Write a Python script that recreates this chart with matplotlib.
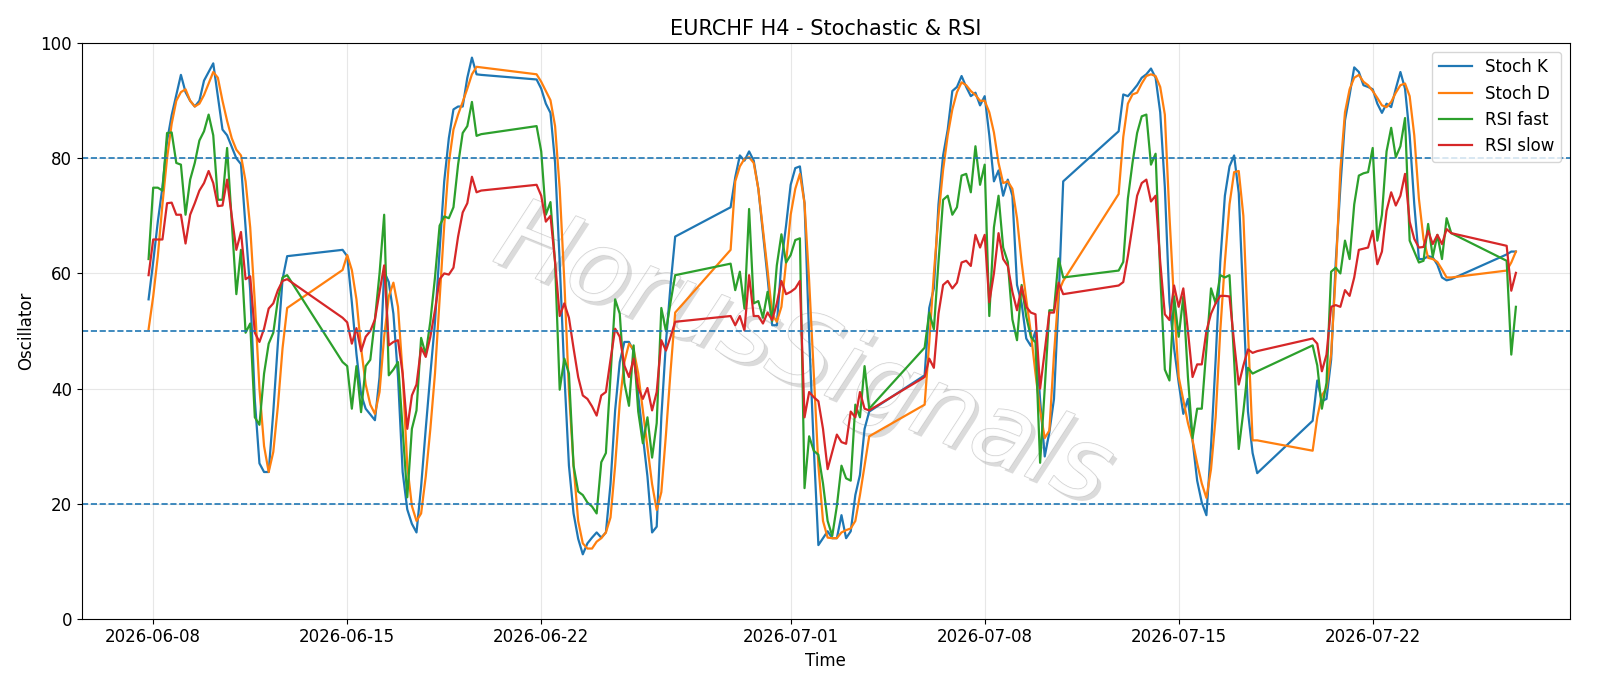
import pandas as pd
import matplotlib
matplotlib.use("Agg")
import matplotlib.pyplot as plt
import matplotlib.patheffects as pe

# each trading week runs Sunday 20:00 -> Friday 20:00 in 4h bars
week_starts = ["2026-06-07 20:00", "2026-06-14 20:00", "2026-06-21 20:00", "2026-06-28 20:00",
               "2026-07-05 20:00", "2026-07-12 20:00", "2026-07-19 20:00", "2026-07-26 20:00"]
bars_per_week = [31, 31, 31, 31, 31, 31, 31, 3]

stoch_k = [
    55.5, 62, 69, 75, 83, 87.5, 91, 94.5, 91.5, 90, 89, 90, 93.5, 95, 96.5, 90.8, 85, 84, 82, 80,
    79, 68, 57, 38, 27, 25.5, 25.5, 36, 48, 59, 63,
    64.1, 63, 55, 46, 39, 36.5, 35.5, 34.5, 42, 60.3, 58.5, 53, 42, 25.5, 19, 16.5, 15, 23, 33, 42.5,
    51.5, 64, 76, 83.5, 88.5, 89, 89, 94, 97.5, 94.6, 94.5,
    93.7, 92.1, 89.5, 87.9, 79.2, 61.9, 42.6, 26.6, 18.3, 13.9, 11.2, 13.1, 14.1, 15, 14.1, 15, 23.4,
    36.2, 44.6, 48.1, 48.1, 46.5, 38.8, 31.8, 24.7, 15, 16, 35, 48, 58, 66.4,
    71.5, 76.7, 80.5, 79.6, 81.2, 79.6, 74.7, 67, 59.3, 51, 51, 61.9, 68.3, 75.4, 78.3, 78.6, 72.2,
    49.1, 29.8, 12.8, 14, 15.2, 14, 14, 18, 14, 15.2, 21.5, 25, 33, 36,
    42.3, 54, 57.4, 72, 80.5, 85, 91.7, 92.4, 94.3, 92.4, 90.8, 91.4, 89.2, 90.8, 84, 76, 77.9, 73.5,
    76.3, 73.5, 58, 54.8, 48.7, 47.4, 50, 38, 28.2, 32.4, 38.2, 55.5, 76,
    84.7, 91.1, 90.8, 91.7, 92.7, 94, 94.6, 95.6, 94, 88, 75, 55, 47, 41, 35.6, 38.2, 31, 24, 20.2,
    18, 30, 45, 62, 73.5, 78.6, 80.5, 74, 55, 36, 28.8, 25.3,
    34.4, 41.4, 37.8, 38.2, 45, 62, 75, 86.6, 91, 95.8, 95, 92.7, 92.4, 92, 89.5, 87.9, 89.5, 88.9,
    92.1, 95, 92.1, 84, 72, 62.5, 62.5, 63, 62.8, 61.5, 59.3, 58.8, 59,
    63.3, 63.8, 63.8,
]

stoch_d = [
    50.3, 56, 63, 72, 80, 86, 90, 91.5, 92, 90, 89, 89.5, 91, 93, 95, 94, 90, 86.5, 83.5, 81.5,
    80.5, 76, 68, 55, 40, 30, 25.5, 29, 37, 47, 54,
    60.6, 63.2, 60.6, 55.5, 47.1, 40.7, 37.2, 35.6, 39.4, 49, 56, 58.4, 54.2, 42.6, 26.6, 19.6, 17,
    18.3, 24.7, 33, 42.6, 55.5, 68.3, 79.2, 85, 87.6, 89.8, 92.1, 94.6, 95.9, 95.8,
    94.6, 93.3, 91.7, 90.1, 85.6, 74.7, 58.7, 39.5, 26.6, 17, 13.1, 12.2, 12.2, 13.4, 14, 15, 17.6,
    26.6, 37.5, 44.6, 47.8, 46.8, 42.6, 36.2, 29.8, 23.4, 18.9, 22, 32, 43, 53.2,
    64.1, 76, 78.6, 79.9, 80.2, 79.2, 74.7, 67.7, 60.6, 52.9, 51.6, 54.2, 61.9, 70.2, 74.7, 77.3,
    72.2, 58.7, 42.6, 26.6, 17, 14.1, 14, 14, 15, 15.4, 15.7, 17, 21.5, 26.6, 31.7,
    37.2, 48, 60, 70, 78, 84, 88.5, 91.5, 93.2, 92.7, 91.7, 91, 90, 90, 88, 84.5, 79.2, 75.7, 76,
    74.7, 69.6, 61.9, 55.5, 49.7, 42.6, 36.2, 31.4, 32.7, 45.9, 56.8, 58.7,
    73.8, 83.7, 89.5, 91.1, 91.4, 93, 94.3, 94.6, 94.3, 92.4, 87.6, 70, 55, 42, 38, 34, 31, 27, 23.5,
    21, 26, 35, 50, 62, 72, 77.6, 77.8, 70, 50, 31, 31,
    29.2, 35, 38.8, 40.1, 46, 60, 78, 88, 92, 94, 94.5, 93.3, 92.7, 91.7, 90.5, 89.2, 88.9, 89.8,
    91.4, 92.7, 93, 90.8, 84, 73, 66, 62.7, 62.5, 62, 60.7, 59.3, 59.3,
    60.5, 61.9, 63.8,
]

rsi_fast = [
    62.5, 74.9, 74.9, 74.4, 84.4, 84.5, 79.2, 78.9, 70.2, 76.3, 79.2, 83.1, 84.7, 87.6, 84, 72.8,
    72.8, 81.8, 69, 56.4, 64.1, 49.7, 51.3, 35, 33.7, 42.6, 47.8, 49.7, 55.5, 59.3, 59.7,
    44.6, 43.9, 36.5, 43.9, 35.9, 43.9, 45, 52, 60, 70.2, 42.3, 43.3, 44.6, 33, 21.1, 33, 36.2, 48.8,
    45.9, 51.7, 59.3, 68.3, 69.9, 69.6, 71.5, 78.9, 84.4, 85.6, 89.8, 83.9, 84.2,
    85.6, 81.2, 70.2, 72.4, 61.9, 39.8, 45.2, 42.6, 26.6, 22.1, 21.5, 20.2, 19.5, 18.3, 27.2, 28.8,
    42, 55.5, 53, 41, 37, 47.5, 36, 30.5, 35, 28, 34, 54, 50, 55, 59.7,
    61.7, 57.1, 60.3, 53.9, 71.2, 54.8, 55.2, 52.3, 56.8, 51.7, 61.4, 66.8, 61.9, 63.2, 65.8, 66.1,
    22.7, 31.7, 29.2, 28.5, 23.5, 17, 14.4, 19.6, 26.6, 24.4, 24, 37.2, 35, 43.9, 36.5,
    47.1, 53.2, 50.3, 62, 72.8, 73.5, 70.2, 71.5, 77, 77.3, 74.1, 82.1, 75.4, 78.9, 52.6, 68, 73.5,
    64.5, 62, 52, 48.4, 58, 52.5, 49, 48, 27.1, 40, 53.6, 53.6, 62.6, 59.3,
    60.5, 62, 73, 79.2, 84.4, 87.3, 87.6, 78.9, 80.8, 60, 43.3, 41.4, 56, 49, 56, 42, 31.4, 36.5,
    36.5, 47, 57.4, 54.8, 59.7, 59.3, 59.7, 45, 29.5, 36, 43.6, 42.6, 43,
    47.5, 44, 36.5, 41, 60.3, 61, 60, 65.7, 62.5, 72, 77, 77.4, 77.6, 81.8, 65.7, 70.2, 81.2, 85.3,
    80.2, 82.1, 87, 65.7, 63.8, 61.9, 62.2, 68.6, 62.9, 66.7, 62.5, 69.6, 67,
    62.2, 45.9, 54.2,
]

rsi_slow = [
    59.7, 65.9, 65.9, 65.9, 72.2, 72.3, 70.2, 70.2, 65.2, 70.2, 72.2, 74.4, 75.7, 77.8, 75.7, 71.7,
    71.8, 76.3, 70, 64.1, 67.2, 59, 59.5, 49.7, 48.1, 50.4, 53.9, 54.8, 57.1, 58.7, 59,
    52.3, 51.5, 47.8, 50.5, 46.5, 49, 50, 52, 56.8, 61.4, 47.5, 48.1, 48.4, 42.6, 33, 38.8, 40.7,
    47.1, 45.5, 49, 53.6, 59, 60, 59.8, 61, 66.4, 70.6, 72.2, 76.8, 74.1, 74.4,
    75.4, 73.5, 69, 70, 62, 52.6, 54.8, 52.3, 47, 42, 38.8, 38.2, 36.9, 35.3, 38.8, 39.4, 45, 50.4,
    49, 44, 42, 45.2, 40.1, 38.2, 40.1, 36.2, 39.4, 48.4, 46.6, 49, 51.6,
    52.6, 51, 52.6, 50.1, 59.7, 52.6, 52.6, 51.3, 53.2, 51.9, 54.8, 58.7, 56.4, 56.8, 57.4, 58.7,
    35, 39.4, 38.5, 37.8, 33, 26, 29, 32, 30.7, 30.4, 36, 35, 39.4, 36.5, 36.2,
    42, 45.2, 43.6, 53, 58, 58.7, 57.4, 58.4, 61.9, 62.2, 61.3, 66.7, 64.5, 66.7, 55, 60, 67, 62.5,
    61.3, 56.8, 53.6, 57.7, 54.2, 53.2, 52.9, 40, 46.5, 53.2, 53.2, 58.4, 56.4,
    57.9, 58.5, 63, 68.3, 73.5, 75.7, 76.3, 72.5, 73.5, 62, 52.9, 51.9, 57.9, 54.2, 57.4, 50, 42,
    44.2, 44.2, 50, 53, 54.8, 56.1, 56.1, 56, 48, 40.7, 44, 46.8, 46.2, 46.5,
    48.7, 47.8, 43, 45.9, 54.2, 54.5, 54.2, 57.1, 56.1, 59.3, 64.1, 64.3, 64.5, 67.4, 61.6, 63.8,
    70.9, 74.1, 71.8, 73.5, 77.3, 69, 66, 64.5, 64.6, 67.4, 65.1, 66.7, 65.1, 67.7, 67,
    64.8, 57, 60.1,
]

# build the 4h timestamps, skipping weekends
times = []
for start, n in zip(week_starts, bars_per_week):
    times.extend(pd.date_range(start, periods=n, freq="4h"))

df = pd.DataFrame({"time": times, "Stoch K": stoch_k, "Stoch D": stoch_d,
                   "RSI fast": rsi_fast, "RSI slow": rsi_slow})

plt.rcParams["font.size"] = 12
fig, ax = plt.subplots(figsize=(16, 6.86), dpi=100)
fig.subplots_adjust(left=0.051, right=0.981, top=0.937, bottom=0.098)

for col in ["Stoch K", "Stoch D", "RSI fast", "RSI slow"]:
    ax.plot(df["time"], df[col], label=col, linewidth=1.6)

for lvl in [80, 50, 20]:
    ax.axhline(lvl, linestyle="--", color="tab:blue", linewidth=1.2)

ax.set_ylim(0, 100)
ax.set_xlim(pd.Timestamp("2026-06-05 10:00"), pd.Timestamp("2026-07-29 02:30"))
ax.grid(True, alpha=0.3)
ax.set_title("EURCHF H4 - Stochastic & RSI", fontsize=15)
ax.set_xlabel("Time")
ax.set_ylabel("Oscillator")
ax.legend(loc="upper right")

# watermark
ax.text(0.485, 0.455, "HorusSignals", transform=ax.transAxes, fontsize=72, style="italic",
        rotation=-22, ha="center", va="center", color="white", alpha=0.85, zorder=0.5,
        path_effects=[pe.withSimplePatchShadow(offset=(3, -3), shadow_rgbFace="#999999", alpha=0.35),
                      pe.Stroke(linewidth=1.0, foreground="#c8c8c8"), pe.Normal()])

plt.savefig("out.png")
